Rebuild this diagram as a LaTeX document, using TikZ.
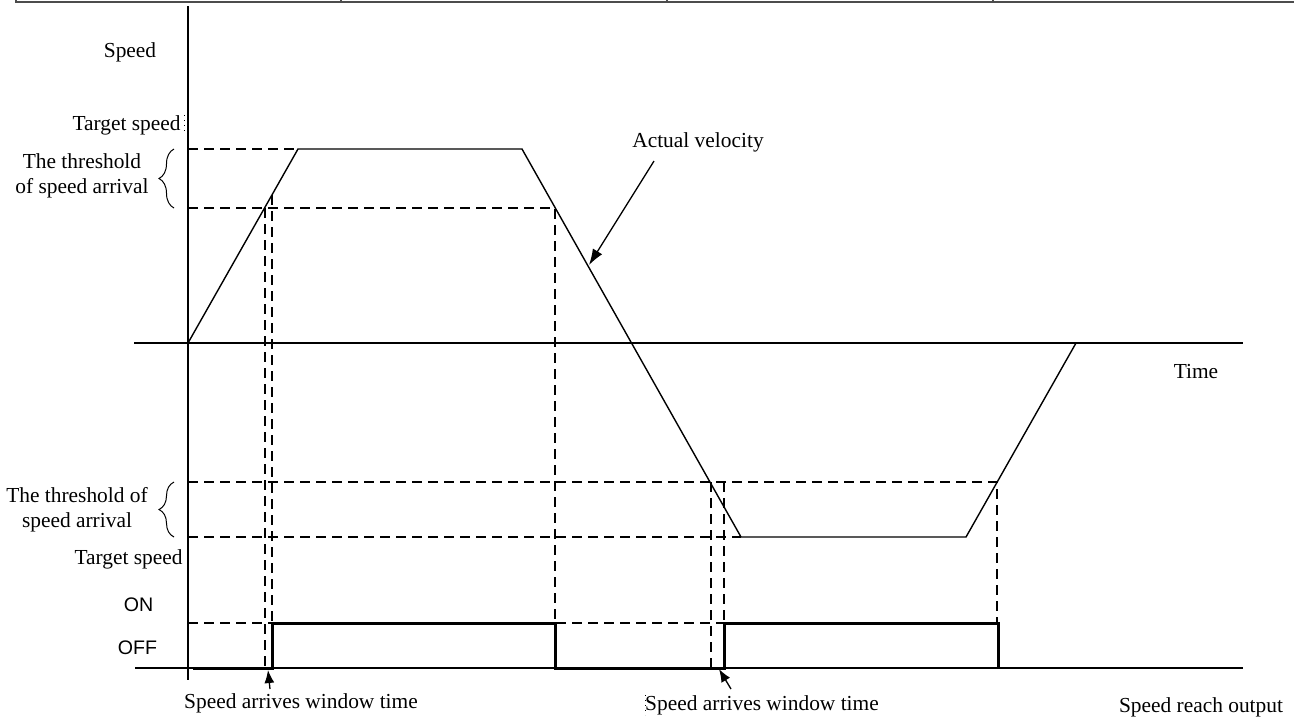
\documentclass[tikz,border=0pt]{standalone}
\usepackage{fontspec}
\setmainfont{Liberation Serif}
\newfontfamily\levelfont{Liberation Sans}
\usetikzlibrary{arrows.meta,decorations.pathreplacing}

\begin{document}
\begin{tikzpicture}[x=0.5pt,y=-0.5pt,lbl/.style={font=\fontsize{10.7}{12.5}\selectfont,inner sep=0},lvl/.style={font=\levelfont\fontsize{9.8}{11}\selectfont,inner sep=0},axis/.style={line width=0.8pt},guide/.style={line width=0.6pt,dash pattern=on 5pt off 3pt},vel/.style={line width=0.7pt},sig/.style={line width=1.5pt},ptr/.style={line width=0.65pt,-{Latex[length=6.5pt,width=5pt]}},brc/.style={line width=0.5pt,decorate,decoration={brace,amplitude=7.5pt}},cursor/.style={line width=0.5pt,dotted},tbl/.style={line width=1pt,gray!60!black}]
\useasboundingbox (0,0) rectangle (1294,720);
\def\xo{188};
\def\yt{343};
\def\ya{149};
\def\yb{208};
\def\yc{482};
\def\yd{537};
\def\yon{623};
\def\yoff{668};

\draw[tbl] (16,0) -- (16,2) -- (1294,2);
\foreach \x in {341,667,993}
  \draw[tbl] (\x,0) -- (\x,2);

\draw[axis] (\xo,6) -- (\xo,680);
\draw[axis] (134,\yt) -- (1243,\yt);
\draw[axis] (135,\yoff) -- (1243,\yoff);

\coordinate (O) at (\xo,\yt);
\coordinate (P1) at (298,\ya);
\coordinate (P2) at (522,\ya);
\coordinate (P3) at (741,\yd);
\coordinate (P4) at (966,\yd);
\coordinate (P5) at (1076,\yt);
\draw[vel] (O) -- (P1) -- (P2) -- (P3) -- (P4) -- (P5);

\draw[guide] (\xo,\ya) -- (P1);
\draw[guide] (\xo,\yb) -- (555,\yb) -- (555,\yon);
\draw[guide] (265,\yb) -- (265,\yoff);
\draw[guide] (272,195) -- (272,\yon);
\draw[guide] (\xo,\yc) -- (997,\yc) -- (997,\yon);
\draw[guide] (\xo,\yd) -- (P3);
\draw[guide] (711,\yc) -- (711,\yoff);
\draw[guide] (724,\yc) -- (724,\yon);
\draw[guide] (\xo,\yon) -- (997,\yon);

\draw[sig] (193,\yoff) -- (272,\yoff) -- (272,\yon) -- (555,\yon) -- (555,\yoff) -- (724,\yoff) -- (724,\yon) -- (998,\yon) -- (998,\yoff);

\draw[brc] (174,\yb) -- (174,\ya);
\draw[brc] (174,\yd) -- (174,\yc);

\node[lbl] (Sp) at (130,52) {Speed};
\node[lbl,anchor=east] (Tu) at (181,125) {Target speed};
\draw[cursor] (184,115) -- (184,132);
\node[lbl,align=center] (Hu) at (82,176) {The threshold\\of speed arrival};
\node[lbl,align=center] (Hl) at (77,510) {The threshold of\\speed arrival};
\node[lbl,anchor=east] (Tl) at (183,559) {Target speed};
\node[lvl] (On) at (138.5,605) {ON};
\node[lvl] (Off) at (137.5,648) {OFF};
\node[lbl] (Tm) at (1196,372) {Time};
\node[lbl] (Av) at (698,142) {Actual velocity};
\node[lbl] (W1) at (301,703) {Speed arrives window time};
\node[lbl] (W2) at (762,705) {Speed arrives window time};
\draw[cursor] (645,695) -- (645,715);
\node[lbl] (Ro) at (1201,707) {Speed reach output};

\coordinate (Avt) at (654,161);
\coordinate (Avh) at (589,265);
\draw[ptr,-{Latex[length=8pt,width=5.5pt]}] (Avt) -- (Avh);
\coordinate (W1t) at (270,689);
\coordinate (W1h) at (268,670);
\draw[ptr] (W1t) -- (W1h);
\coordinate (W2t) at (731,689);
\coordinate (W2h) at (719,669);
\draw[ptr] (W2t) -- (W2h);
\end{tikzpicture}
\end{document}
